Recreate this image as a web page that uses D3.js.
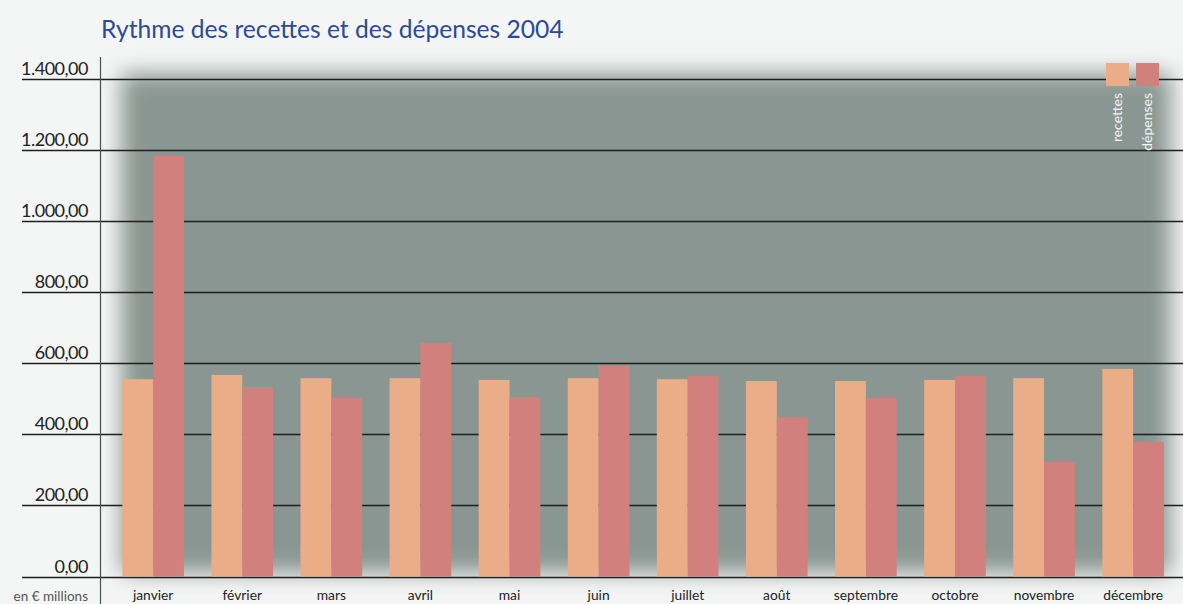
<!DOCTYPE html>
<html>
<head>
<meta charset="utf-8">
<script src="https://cdn.jsdelivr.net/npm/d3@7"></script>
<style>
  body { margin: 0; background: #f4f6f5; }
  svg { display: block; font-family: Lato, "Open Sans", sans-serif; }
</style>
</head>
<body>
<div id="chart"></div>
<script>
// data (en € millions)
const months = ["janvier", "février", "mars", "avril", "mai", "juin",
                "juillet", "août", "septembre", "octobre", "novembre", "décembre"];
const recettes = [555, 567, 558, 558, 553, 558, 555, 550, 550, 553, 558, 584];
const depenses = [1183, 533, 502, 657, 505, 593, 564, 448, 502, 564, 322, 378];
const seriesNames = ["recettes", "dépenses"];
const seriesColors = ["#ebad88", "#d2807e"];
const yTicks = [0, 200, 400, 600, 800, 1000, 1200, 1400];

const width = 1183, height = 604;

const svg = d3.select("#chart").append("svg")
    .attr("width", width)
    .attr("height", height);

const fr = d3.formatLocale({decimal: ",", thousands: ".", grouping: [3], currency: ["", " €"]});
const fmt = fr.format(",.2f");

const x = d3.scaleBand()
    .domain(months)
    .range([108.6, 1177.7])
    .paddingInner(0.308)
    .paddingOuter(0.154);

const xs = d3.scaleBand()
    .domain(seriesNames)
    .range([0, x.bandwidth()]);

const y = d3.scaleLinear()
    .domain([0, 1400])
    .range([576.5, 78.8]);

// soft grey panel behind the bars
const defs = svg.append("defs");
defs.append("filter")
    .attr("id", "soft")
    .attr("x", "-10%").attr("y", "-10%")
    .attr("width", "120%").attr("height", "120%")
  .append("feGaussianBlur")
    .attr("stdDeviation", 11);

svg.append("rect")
    .attr("x", 121)
    .attr("y", 73)
    .attr("width", 1050)
    .attr("height", 500)
    .attr("fill", "#8a9691")
    .attr("filter", "url(#soft)");

// gridlines
svg.append("g")
    .selectAll("line")
    .data(yTicks)
    .join("line")
    .attr("x1", 22)
    .attr("x2", width)
    .attr("y1", d => Math.round(y(d)) + 0.5)
    .attr("y2", d => Math.round(y(d)) + 0.5)
    .attr("stroke", "#1e1e1e")
    .attr("stroke-width", 1.3);

// y labels sit just above their line
svg.append("g")
    .selectAll("text")
    .data(yTicks)
    .join("text")
    .attr("x", 88)
    .attr("y", d => y(d) - 4)
    .attr("text-anchor", "end")
    .attr("font-size", 18)
    .attr("letter-spacing", -0.5)
    .attr("fill", "#222")
    .text(d => fmt(d));

// vertical axis line
svg.append("line")
    .attr("x1", 100.5).attr("x2", 100.5)
    .attr("y1", 57).attr("y2", height)
    .attr("stroke", "#44514d")
    .attr("stroke-width", 1.2);

// bars
const groups = svg.append("g")
    .selectAll("g")
    .data(months.map((m, i) => ({month: m, values: [recettes[i], depenses[i]]})))
    .join("g")
    .attr("transform", d => `translate(${x(d.month)},0)`);

groups.selectAll("rect")
    .data(d => d.values.map((v, j) => ({key: seriesNames[j], value: v, color: seriesColors[j]})))
    .join("rect")
    .attr("x", d => xs(d.key))
    .attr("y", d => y(d.value))
    .attr("width", xs.bandwidth())
    .attr("height", d => y(0) - y(d.value))
    .attr("fill", d => d.color);

// month labels
svg.append("g")
    .selectAll("text")
    .data(months)
    .join("text")
    .attr("x", d => x(d) + x.bandwidth() / 2)
    .attr("y", 600)
    .attr("text-anchor", "middle")
    .attr("font-size", 13.8)
    .attr("fill", "#222")
    .text(d => d);

svg.append("text")
    .attr("x", 88)
    .attr("y", 601)
    .attr("text-anchor", "end")
    .attr("font-size", 13.5)
    .attr("fill", "#555")
    .text("en € millions");

// title
svg.append("text")
    .attr("x", 101)
    .attr("y", 38)
    .attr("font-size", 24.6)
    .attr("fill", "#2c4a98")
    .text("Rythme des recettes et des dépenses 2004");

// legend
const legend = svg.append("g")
    .selectAll("g")
    .data(seriesNames)
    .join("g")
    .attr("transform", (d, i) => `translate(${1106 + i * 30},63)`);

legend.append("rect")
    .attr("width", 23)
    .attr("height", 23)
    .attr("fill", (d, i) => seriesColors[i]);

legend.append("text")
    .attr("transform", "translate(15.5,30) rotate(-90)")
    .attr("text-anchor", "end")
    .attr("font-size", 14)
    .attr("fill", "#f4f4f4")
    .text(d => d);
</script>
</body>
</html>
